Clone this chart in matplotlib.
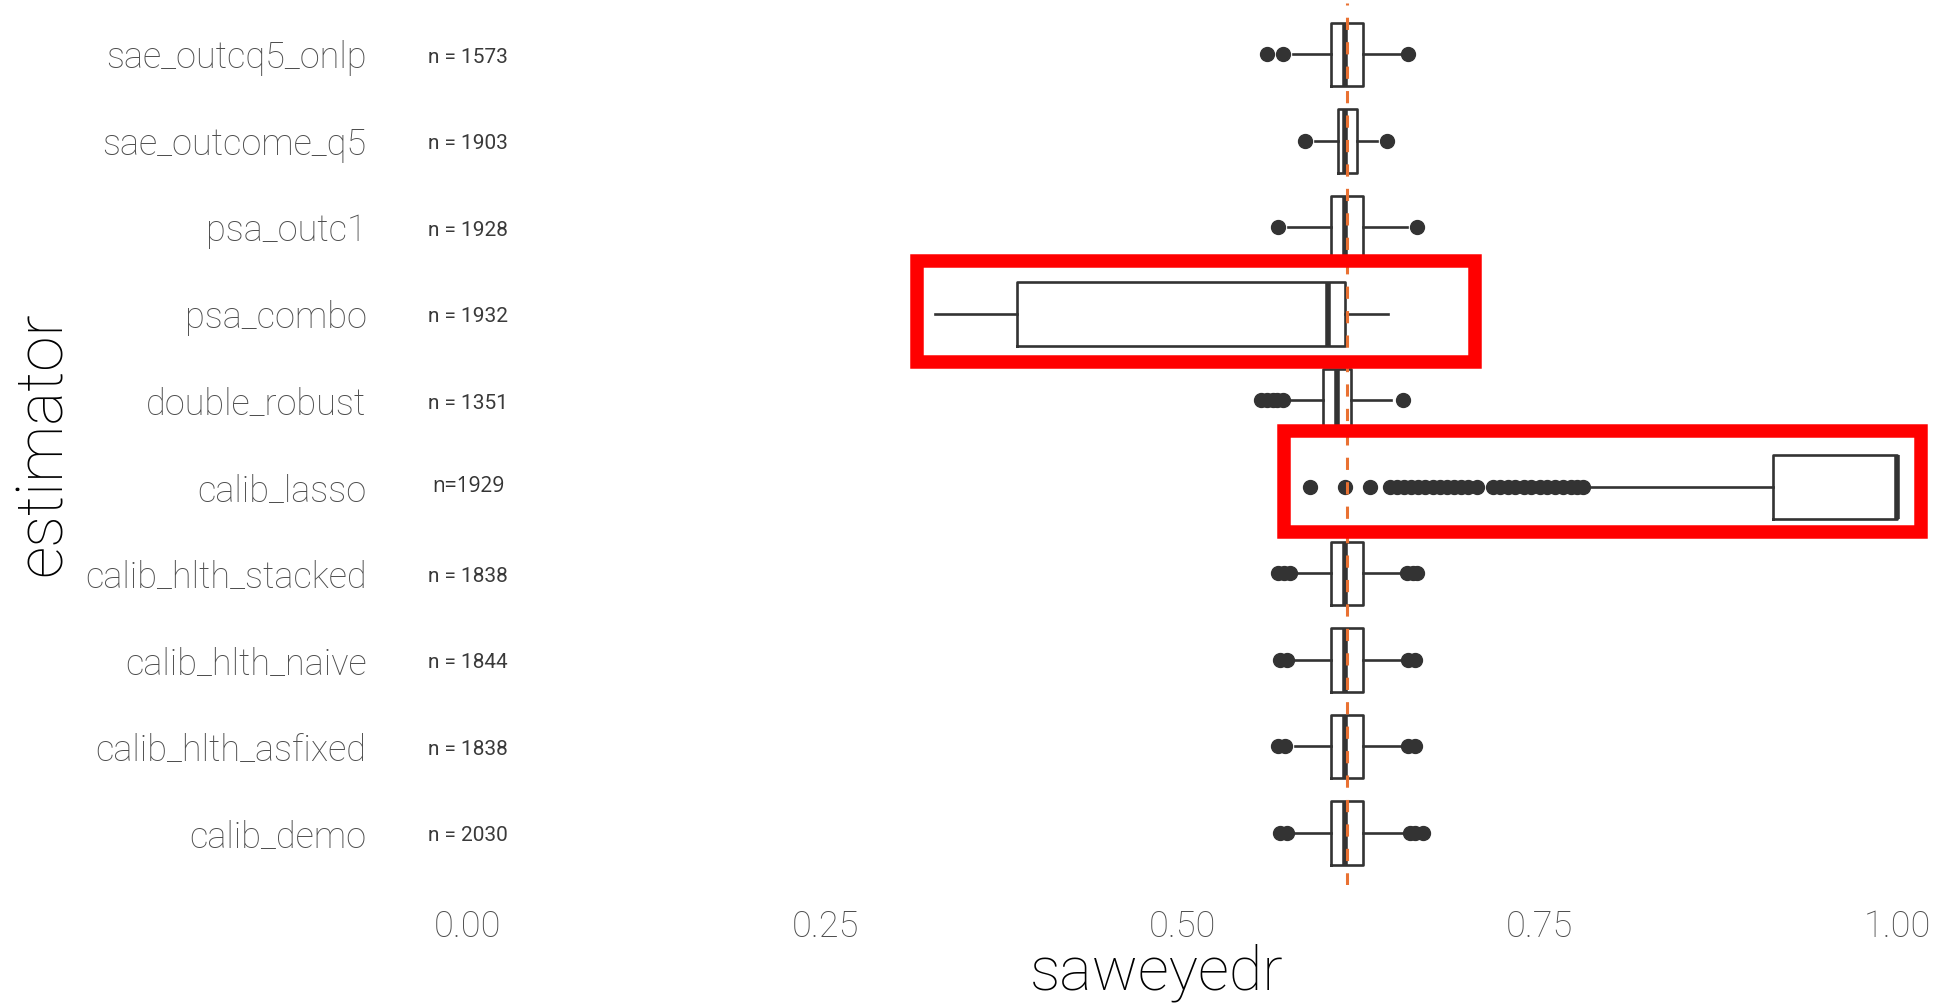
import matplotlib
matplotlib.use("Agg")
import matplotlib.pyplot as plt
from matplotlib.patches import Rectangle

# estimators, listed top to bottom
estimators = ["sae_outcq5_onlp", "sae_outcome_q5", "psa_outc1", "psa_combo",
              "double_robust", "calib_lasso", "calib_hlth_stacked",
              "calib_hlth_naive", "calib_hlth_asfixed", "calib_demo"]
n_obs = [1573, 1903, 1928, 1932, 1351, 1929, 1838, 1844, 1838, 2030]

# box summaries of saweyedr per estimator
whis_lo = [0.577, 0.593, 0.574, 0.327, 0.575, 0.784, 0.579, 0.579, 0.579, 0.579]
q1 = [0.604, 0.609, 0.604, 0.384, 0.598, 0.913, 0.604, 0.604, 0.604, 0.604]
med = [0.614, 0.614, 0.614, 0.602, 0.608, 1.000, 0.614, 0.614, 0.614, 0.614]
q3 = [0.626, 0.622, 0.626, 0.614, 0.618, 1.000, 0.626, 0.626, 0.626, 0.626]
whis_hi = [0.654, 0.636, 0.657, 0.644, 0.646, 1.000, 0.652, 0.652, 0.652, 0.654]
outliers = [
    [0.559, 0.570, 0.658],
    [0.586, 0.643],
    [0.567, 0.664],
    [],
    [0.555, 0.559, 0.563, 0.566, 0.570, 0.654],
    [0.589, 0.614, 0.631,
     0.645, 0.650, 0.655, 0.660, 0.665, 0.670, 0.675, 0.680, 0.685, 0.690,
     0.695, 0.700, 0.706,
     0.717, 0.722, 0.728, 0.733, 0.739, 0.744, 0.750, 0.755, 0.761, 0.766,
     0.772, 0.776, 0.780],
    [0.567, 0.571, 0.575, 0.657, 0.661, 0.664],
    [0.568, 0.573, 0.658, 0.663],
    [0.567, 0.572, 0.658, 0.663],
    [0.568, 0.573, 0.659, 0.663, 0.668],
]
ref_value = 0.615
x_ticks = [0.00, 0.25, 0.50, 0.75, 1.00]

# highlight frames, pixel boxes (left, top, right, bottom) on the 1941x1005 canvas
highlights = [(910, 254, 1482, 369), (1277, 424, 1928, 539)]

W, H = 1941, 1005
DARK = "#333333"
FONT = "Roboto"

fig = plt.figure(figsize=(W / 100, H / 100), dpi=100)
fig.patch.set_facecolor("white")
ax = fig.add_axes([372 / W, 0.1195, 1 - 372 / W, 0.878])

k = len(estimators)
positions = [k - i for i in range(k)]
stats = []
for i, name in enumerate(estimators):
    stats.append(dict(label=name, whislo=whis_lo[i], q1=q1[i], med=med[i],
                      q3=q3[i], whishi=whis_hi[i], fliers=outliers[i]))

ax.bxp(stats, positions=positions, widths=0.73, orientation="horizontal",
       showcaps=False, patch_artist=False,
       boxprops=dict(color=DARK, linewidth=1.9),
       whiskerprops=dict(color=DARK, linewidth=1.9),
       medianprops=dict(color=DARK, linewidth=4.0, solid_capstyle="butt"),
       flierprops=dict(marker="o", markersize=10, markerfacecolor=DARK,
                       markeredgecolor=DARK, linestyle="none"))

ax.axvline(ref_value, color="#E97132", linewidth=2.2, linestyle=(0, (4, 4)),
           zorder=5)

# sample sizes at x = 0
for pos, name, n in zip(positions, estimators, n_obs):
    if name == "calib_lasso":
        ax.text(0, pos, f"n={n}", ha="center", va="center", fontsize=15,
                family="Open Sans", color=DARK)
    else:
        ax.text(0, pos - 0.03, f"n = {n}", ha="center", va="center",
                fontsize=15, family=FONT, color="#3a3a3a")

ax.set_xlim((372 - 468) / 1429, (W - 468) / 1429)
ax.set_ylim(0.4, k + 0.6)
ax.set_yticks(positions)
ax.set_yticklabels(estimators)
ax.set_xticks(x_ticks)
ax.set_xticklabels([f"{t:.2f}" for t in x_ticks])
for lab in ax.get_xticklabels() + ax.get_yticklabels():
    lab.set_family(FONT)
    lab.set_fontweight("light")
    lab.set_fontsize(26)
    lab.set_color("#4D4D4D")
ax.tick_params(axis="both", length=0)
ax.tick_params(axis="y", pad=4)
ax.tick_params(axis="x", pad=17)
ax.set_xlabel("saweyedr", family=FONT, fontweight="light", fontsize=44,
              color="black", labelpad=-1)
ax.set_ylabel("estimator", family=FONT, fontweight="light", fontsize=46,
              color="black", labelpad=8)
for s in ax.spines.values():
    s.set_visible(False)
ax.grid(False)

for (l, t, r, b) in highlights:
    lw = 13.5
    half = lw / 2
    rect = Rectangle(((l + half) / W, (H - b + half) / H),
                     (r - l - lw) / W, (b - t - lw) / H,
                     transform=fig.transFigure, fill=False, edgecolor="#FF0000",
                     linewidth=lw * 72 / 100, joinstyle="miter", zorder=10)
    fig.add_artist(rect)

fig.savefig("out.png", dpi=100, facecolor="white")
